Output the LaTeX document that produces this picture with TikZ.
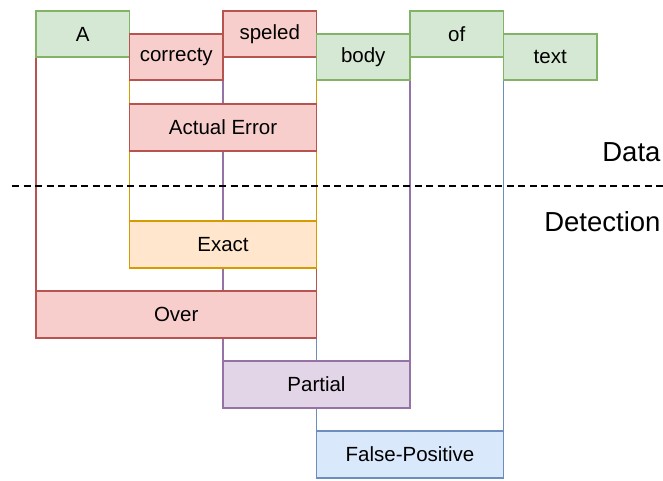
\documentclass[tikz,border=0pt]{standalone}
\usepackage{fontspec}
\setmainfont{Liberation Sans}
\usetikzlibrary{backgrounds}
\definecolor{vdfundo}{HTML}{D5E8D4}
\definecolor{vdborda}{HTML}{82B366}
\definecolor{vmfundo}{HTML}{F8CECC}
\definecolor{vmborda}{HTML}{B85450}
\definecolor{lrfundo}{HTML}{FFE6CC}
\definecolor{lrborda}{HTML}{D79B00}
\definecolor{rxfundo}{HTML}{E1D5E7}
\definecolor{rxborda}{HTML}{9673A6}
\definecolor{azfundo}{HTML}{DAE8FC}
\definecolor{azborda}{HTML}{6C8EBF}
\begin{document}
\begin{tikzpicture}[x=1pt,y=-1pt,
    caixa/.style={draw, line width=1.9pt, minimum height=46.5pt, inner sep=0pt,
      outer sep=0pt, font=\fontsize{20.5}{24}\selectfont},
    palavra/.style={caixa, minimum width=93.5pt},
    verde/.style={draw=vdborda, fill=vdfundo},
    vermelho/.style={draw=vmborda, fill=vmfundo},
    laranja/.style={draw=lrborda, fill=lrfundo},
    roxo/.style={draw=rxborda, fill=rxfundo},
    azul/.style={draw=azborda, fill=azfundo},
    haste/.style={line width=1.9pt}]
  \useasboundingbox (0,0) rectangle (663,480);
  % Colunas das palavras
  \def\xo{36}
  \def\w{93.5}
  \def\ya{34}
  \def\yb{57}
  % Frase (dados)
  \node[palavra, verde]    (a)        at ({\xo+0.5*\w},\ya) {A};
  \node[palavra, vermelho] (correcty) at ({\xo+1.5*\w},\yb) {correcty};
  \node[palavra, vermelho] (speled)   at ({\xo+2.5*\w},\ya) {speled};
  \node[palavra, verde]    (body)     at ({\xo+3.5*\w},\yb) {body};
  \node[palavra, verde]    (of)       at ({\xo+4.5*\w},\ya) {of};
  \node[palavra, verde]    (text)     at ({\xo+5.5*\w},\yb) {text};
  % Erro real e deteccoes
  \node[caixa, vermelho, minimum width=2*\w] (actual)  at ({\xo+2*\w},127.5) {Actual Error};
  \node[caixa, laranja, minimum width=2*\w]  (exact)   at ({\xo+2*\w},244.5) {Exact};
  \node[caixa, vermelho, minimum width=3*\w] (over)    at ({\xo+1.5*\w},314.5) {Over};
  \node[caixa, roxo, minimum width=2*\w]     (partial) at ({\xo+3*\w},384.5) {Partial};
  \node[caixa, azul, minimum width=2*\w]     (fp)      at ({\xo+4*\w},454.5) {False-Positive};
  % Hastes ligando as palavras as deteccoes (atras das caixas)
  \begin{scope}[on background layer]
    \draw[haste, azborda] (body.south west) -- (fp.north west);
    \draw[haste, azborda] (text.south west) -- (fp.north east);
    \draw[haste, vmborda] (a.south west) -- (over.north west);
    \draw[haste, vmborda] (speled.south east) -- (over.north east);
    \draw[haste, lrborda] (correcty.south west) -- (exact.north west);
    \draw[haste, lrborda] (speled.south east) -- (exact.north east);
    \draw[haste, rxborda] (correcty.south east) -- (partial.north west);
    \draw[haste, rxborda] (body.south east) -- (partial.north east);
  \end{scope}
  % Divisao entre dados e deteccao
  \coordinate (divesq) at (12,186);
  \coordinate (divdir) at (663,186);
  \draw[line width=1.6pt, dash pattern=on 7pt off 4.5pt] (divesq) -- (divdir);
  \node[anchor=east, font=\fontsize{27.5}{32}\selectfont] (data) at (664,152) {Data};
  \node[anchor=east, font=\fontsize{27.5}{32}\selectfont] (detection) at (664,222) {Detection};
\end{tikzpicture}
\end{document}
